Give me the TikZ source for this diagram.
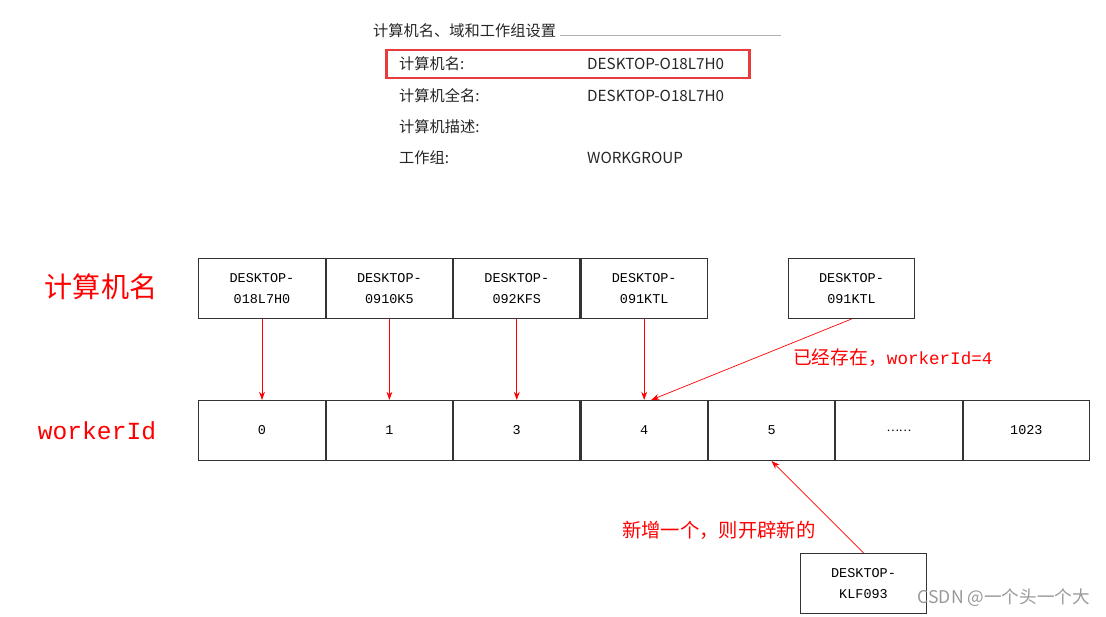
\documentclass[tikz,border=0pt]{standalone}
\usepackage{fontspec}
\setmainfont{Liberation Serif}
\newfontfamily\cjk{Noto Sans CJK SC}
\newfontfamily\boxfont{Liberation Mono}
\usetikzlibrary{positioning, arrows.meta}

\begin{document}
\begin{tikzpicture}[x=0.03cm, y=-0.03cm]
        % Setup the styles for the boxes and texts
        \tikzset{pc box/.style={draw=black!80,
                                line width=0.9pt,
                                minimum width=3.79cm,
                                minimum height=1.80cm,
                                inner sep=0pt,
                                align=center,
                                font=\boxfont\fontsize{11.5}{17.5}\selectfont}}
        \tikzset{sys text/.style={font=\cjk\fontsize{13}{15}\selectfont,
                                  text=black!85,
                                  anchor=west,
                                  inner sep=0pt}}
        \tikzset{red note/.style={text=red,
                                  anchor=west,
                                  inner sep=0pt}}
        \tikzset{red arrow/.style={draw=red,
                                   line width=0.6pt,
                                   -{Stealth[length=7pt,width=5pt]}}}

        \useasboundingbox (0,0) rectangle (1106,617);

        % Draw the settings panel
        \node[sys text] (title) at (373,31) {计算机名、域和工作组设置};
        \coordinate (lineend) at (781,35);
        \draw[black!30, line width=0.6pt] ([xshift=3pt]title.east |- lineend) -- (lineend);
        \node[draw={rgb,255:red,232;green,60;blue,60}, line width=2.4pt,
              minimum width=10.9cm, minimum height=0.84cm] (mark) at (568,64) {};
        \node[sys text] (key1) at (399,64) {计算机名:};
        \node[sys text] (val1) at (587,64) {DESKTOP-O18L7H0};
        \node[sys text] (key2) at (399,96) {计算机全名:};
        \node[sys text] (val2) at (587,96) {DESKTOP-O18L7H0};
        \node[sys text] (key3) at (399,127) {计算机描述:};
        \node[sys text] (key4) at (399,158) {工作组:};
        \node[sys text] (val4) at (587,158) {WORKGROUP};

        % Draw the row labels
        \node[text=red, font=\cjk\fontsize{24}{26}\selectfont] (namelabel) at (101,287) {计算机名};
        \node[text=red, font=\boxfont\fontsize{21}{23}\selectfont] (idlabel) at (97,431) {workerId};

        % Draw the computer names
        \node[pc box] (pc1) at (262,288.5) {DESKTOP-\\018L7H0};
        \node[pc box, right=0pt of pc1] (pc2) {DESKTOP-\\0910K5};
        \node[pc box, right=0pt of pc2] (pc3) {DESKTOP-\\092KFS};
        \node[pc box, right=0pt of pc3] (pc4) {DESKTOP-\\091KTL};
        \node[pc box] (pc5) at (851.5,288.5) {DESKTOP-\\091KTL};
        \node[pc box] (pc6) at (863.5,583.5) {DESKTOP-\\KLF093};

        % Draw the workerId cells
        \node[pc box] (id0) at (262,430.5) {0};
        \node[pc box, right=0pt of id0] (id1) {1};
        \node[pc box, right=0pt of id1] (id2) {3};
        \node[pc box, right=0pt of id2] (id3) {4};
        \node[pc box, right=0pt of id3] (id4) {5};
        \node[pc box, right=0pt of id4, font=\cjk\fontsize{10}{12}\selectfont] (id5) {……};
        \node[pc box, right=0pt of id5] (id6) {1023};

        % Connect the names with the cells
        \draw[red arrow] (pc1.south) -- (id0.north);
        \draw[red arrow] (pc2.south) -- (id1.north);
        \draw[red arrow] (pc3.south) -- (id2.north);
        \draw[red arrow] (pc4.south) -- (id3.north);
        \draw[red arrow] (pc5.south) -- ([xshift=6pt]id3.north);
        \draw[red arrow] (pc6.north) -- (id4.south);

        % Notes
        \node[red note] (note1) at (793,358)
              {{\cjk\fontsize{16}{18}\selectfont 已经存在，}{\boxfont\fontsize{15}{18}\selectfont workerId=4}};
        \node[red note, font=\cjk\fontsize{16.5}{18}\selectfont] (note2) at (622,530) {新增一个，则开辟新的};
        \node[text=black!40, anchor=east, inner sep=0pt, font=\cjk\fontsize{15}{17}\selectfont] (mark2) at (1090,598) {CSDN @一个头一个大};
\end{tikzpicture}
\end{document}
